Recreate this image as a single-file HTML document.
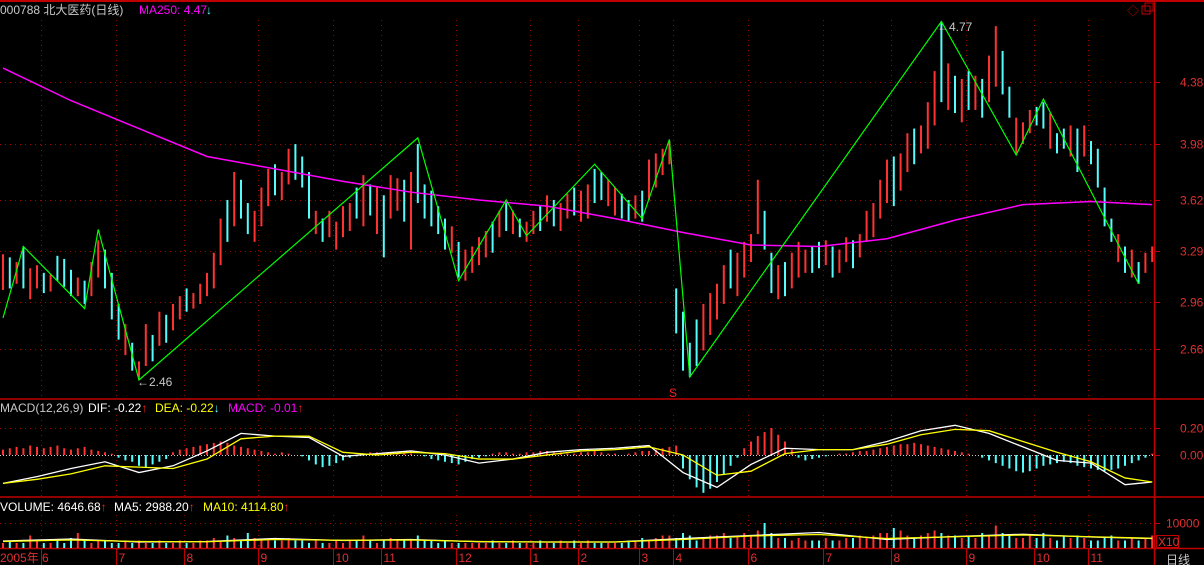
<!DOCTYPE html>
<html><head><meta charset="utf-8"><style>
html,body{margin:0;padding:0;background:#000;}
body{width:1204px;height:565px;overflow:hidden;position:relative;font-family:"Liberation Sans","Noto Sans CJK SC",sans-serif;}
svg{position:absolute;left:0;top:0;}
text{font-family:"Liberation Sans","Noto Sans CJK SC",sans-serif;font-size:12px;}
</style></head><body>
<svg id="chart" width="1204" height="565">
  <g id="grid"></g>
  <g id="frame">
    <line x1="0" y1="1" x2="1204" y2="1" stroke="#c00000" stroke-width="2"/>
    <line x1="1154.5" y1="0" x2="1154.5" y2="565" stroke="#c00000" stroke-width="1.5"/>
    <line x1="0" y1="399" x2="1204" y2="399" stroke="#c00000" stroke-width="1.5"/>
    <line x1="0" y1="497" x2="1204" y2="497" stroke="#c00000" stroke-width="1.5"/>
    <line x1="0" y1="548.5" x2="1204" y2="548.5" stroke="#c00000" stroke-width="1.5"/>
  </g>
  <g id="marks"></g>
  <g id="labels">
    <text x="0" y="14" fill="#c8c8c8">000788 北大医药(日线)</text>
    <text x="139" y="14" fill="#ff00ff">MA250: 4.47</text>
    <text x="206" y="14" fill="#54fcfc">↓</text>
    <text x="1127" y="15" fill="#c00000" font-size="13">◇</text>
    <rect x="1142" y="6" width="8" height="8" fill="none" stroke="#c00000"/>
    <rect x="1145" y="3" width="8" height="8" fill="none" stroke="#c00000"/>
    <text x="0" y="412" fill="#c8c8c8">MACD(12,26,9)</text>
    <text x="88" y="412" fill="#ffffff">DIF: -0.22<tspan fill="#ff2020">↑</tspan></text>
    <text x="155" y="412" fill="#ffff00">DEA: -0.22<tspan fill="#54fcfc">↓</tspan></text>
    <text x="228" y="412" fill="#ff00ff">MACD: -0.01<tspan fill="#ff2020">↑</tspan></text>
    <text x="0" y="511" fill="#ffffff">VOLUME: 4646.68<tspan fill="#ff2020">↑</tspan></text>
    <text x="114" y="511" fill="#ffffff">MA5: 2988.20<tspan fill="#ff2020">↑</tspan></text>
    <text x="203" y="511" fill="#ffff00">MA10: 4114.80<tspan fill="#ff2020">↑</tspan></text>
    <text x="137" y="386" fill="#c8c8c8">←2.46</text>
    <text x="937" y="31" fill="#c8c8c8">←4.77</text>
    <text x="669" y="397" fill="#ff2020" font-size="12">S</text>
    <rect x="1156.5" y="535.5" width="22" height="12" fill="none" stroke="#c00000"/>
    <text x="1158" y="546" fill="#e03030" font-size="11">X10</text>
    <text x="1166" y="564" fill="#c8c8c8">日线</text>
  </g>
</svg>
<script>
const monthLabels = ["2005年 6","7","8","9","10","11","12","1","2","3","4","6","7","8","9","10","11"];
const monthBars = [6,17,27,38,49,56,67,78,85,94,99,110,121,131,142,152,160];
const priceTicks = [4.38,3.98,3.62,3.29,2.96,2.66];
const macdTicks = [0.20,0.00];
const volTicks = [10000];
const highs = [3.27,3.25,3.22,3.32,3.18,3.20,3.15,3.14,3.26,3.24,3.17,3.12,3.10,3.22,3.36,3.30,3.15,2.95,2.82,2.70,2.58,2.82,2.75,2.90,2.88,2.95,3.00,3.05,3.02,3.08,3.15,3.28,3.50,3.62,3.80,3.75,3.60,3.55,3.70,3.82,3.85,3.80,3.95,3.98,3.90,3.80,3.55,3.50,3.55,3.48,3.58,3.60,3.70,3.78,3.72,3.70,3.65,3.78,3.76,3.75,3.80,3.98,3.72,3.68,3.58,3.50,3.45,3.35,3.30,3.32,3.38,3.42,3.48,3.55,3.60,3.55,3.50,3.48,3.55,3.58,3.65,3.62,3.60,3.66,3.70,3.68,3.72,3.82,3.80,3.75,3.70,3.66,3.62,3.65,3.68,3.88,3.92,3.95,4.00,3.05,2.90,2.70,2.85,2.95,3.02,3.08,3.20,3.30,3.28,3.35,3.40,3.75,3.55,3.28,3.20,3.22,3.28,3.35,3.30,3.32,3.35,3.36,3.32,3.30,3.38,3.36,3.40,3.55,3.60,3.75,3.88,3.90,3.92,4.05,4.08,4.10,4.25,4.45,4.77,4.50,4.42,4.40,4.45,4.42,4.40,4.55,4.74,4.58,4.35,4.15,4.12,4.20,4.22,4.25,4.18,4.05,4.08,4.10,4.08,4.10,4.00,3.95,3.70,3.50,3.40,3.32,3.30,3.22,3.28,3.32];
const lows = [3.04,3.05,3.08,3.05,2.98,3.05,3.02,3.03,3.10,3.06,3.00,3.00,2.95,3.00,3.12,3.05,2.85,2.72,2.62,2.52,2.46,2.55,2.58,2.68,2.70,2.78,2.85,2.90,2.92,2.95,3.00,3.05,3.20,3.35,3.45,3.50,3.40,3.35,3.45,3.58,3.65,3.62,3.72,3.75,3.70,3.50,3.40,3.35,3.38,3.30,3.38,3.42,3.50,3.45,3.52,3.40,3.25,3.50,3.55,3.48,3.30,3.60,3.50,3.45,3.40,3.30,3.28,3.12,3.10,3.15,3.20,3.25,3.28,3.38,3.42,3.40,3.38,3.35,3.40,3.42,3.48,3.45,3.42,3.50,3.52,3.48,3.50,3.60,3.62,3.58,3.52,3.50,3.48,3.50,3.48,3.62,3.70,3.78,3.85,2.76,2.52,2.48,2.55,2.65,2.75,2.85,2.95,3.05,3.00,3.12,3.22,3.40,3.30,3.02,2.98,3.00,3.05,3.12,3.15,3.15,3.18,3.20,3.12,3.15,3.22,3.18,3.25,3.35,3.38,3.50,3.60,3.58,3.68,3.80,3.85,3.92,3.95,4.10,4.25,4.20,4.18,4.12,4.20,4.20,4.15,4.25,4.35,4.30,4.15,3.92,3.98,4.05,4.10,4.08,3.95,3.92,3.95,3.90,3.80,3.90,3.85,3.70,3.45,3.35,3.22,3.15,3.12,3.08,3.15,3.22];
const ups = "10101101000101100010110101101111101001110110001011110101011010000010111101010110101101100110010111100001111011110010111001011011111011011101010101100111001001010000101011";
const ma250Bars = [0,10,20,30,40,50,60,70,80,90,100,110,120,130,140,150,160,169];
const ma250 = [4.47,4.26,4.08,3.90,3.82,3.74,3.67,3.62,3.58,3.50,3.41,3.33,3.32,3.37,3.49,3.59,3.61,3.59];
const zigBars = [0,3,12,14,20,61,67,74,77,87,94,98,101,138,149,153,167];
const zigPrices = [2.86,3.32,2.92,3.43,2.46,4.02,3.10,3.62,3.39,3.85,3.50,4.01,2.48,4.77,3.91,4.27,3.08];
const macdBars = [0,5,10,15,20,25,30,35,40,45,50,55,60,65,70,75,80,85,90,95,100,105,110,115,120,125,130,135,140,145,150,155,160,165,169];
const dif = [-0.21,-0.16,-0.10,-0.05,-0.13,-0.08,0.03,0.16,0.14,0.13,-0.01,0.01,0.03,0.00,-0.06,-0.03,0.02,0.04,0.05,0.07,-0.13,-0.24,-0.07,0.05,0.04,0.04,0.10,0.18,0.22,0.16,0.06,-0.04,-0.06,-0.22,-0.20];
const dea = [-0.21,-0.18,-0.14,-0.08,-0.09,-0.10,-0.03,0.12,0.14,0.14,0.02,0.00,0.02,0.01,-0.03,-0.03,0.00,0.03,0.04,0.06,0.00,-0.15,-0.12,0.01,0.04,0.04,0.08,0.15,0.19,0.18,0.10,0.02,-0.05,-0.17,-0.20];
const hist = [4,5,6,5,7,6,5,6,7,5,4,5,6,4,3,2,1,-2,-4,-5,-8,-9,-7,-5,-3,2,4,5,6,7,8,9,10,9,7,6,5,4,3,2,1,2,1,0,-1,-4,-7,-9,-8,-6,-4,-2,-1,1,2,2,1,2,1,1,1,0,-1,-3,-4,-5,-6,-7,-5,-3,-2,-1,1,2,2,1,1,2,2,3,3,2,2,1,1,2,2,3,2,1,1,0,1,2,3,3,4,5,6,7,-10,-18,-24,-28,-25,-20,-14,-8,-2,5,10,14,17,20,15,10,4,-2,-4,-3,-2,-1,0,1,1,2,3,3,4,5,6,7,8,8,9,8,7,6,5,4,3,2,1,0,-2,-4,-6,-8,-10,-12,-13,-12,-10,-8,-7,-6,-5,-6,-8,-9,-10,-11,-12,-11,-10,-8,-6,-4,-2,1];
const volume = [2,3,2,2,5,3,2,2,3,2,4,6,3,2,3,3,2,2,3,2,3,2,2,3,2,2,3,2,2,3,3,4,3,5,4,3,6,4,3,3,3,3,4,3,3,2,3,2,2,3,2,3,3,5,3,2,3,4,3,3,3,5,3,3,2,3,2,2,2,2,2,2,3,2,2,3,2,2,2,3,2,2,3,2,3,2,3,2,2,2,2,2,3,3,4,3,4,5,5,4,6,5,3,4,5,5,6,4,5,6,5,7,10,6,4,4,3,4,3,3,3,4,3,3,4,4,5,4,5,6,6,8,7,5,4,5,6,7,6,5,5,4,5,4,6,5,9,6,5,4,4,5,4,6,4,3,5,4,5,4,3,3,4,5,3,3,4,3,4,5];
const volMaBars = [0,10,20,30,40,50,60,70,80,90,100,110,120,130,140,150,160,169];
const volMa5 = [2.8,3.6,2.4,2.6,3.8,3.0,3.4,2.5,2.4,2.4,3.8,5.0,6.2,3.4,4.6,5.5,4.4,3.8];
const volMa10 = [2.6,3.2,2.6,2.5,3.4,3.1,3.2,2.6,2.4,2.4,3.4,4.8,5.4,3.8,4.5,5.2,4.5,3.9];

const NS = "http://www.w3.org/2000/svg";
function xOf(i){ return 3 + i*6.8; }
function yP(p){ return 82 + (4.38 - p)*155.2; }
function yM(v){ return 455 - v*135; }
function yV(v){ return 548 - v*2.5; }
const RED = "#ff3232", CYAN = "#54fcfc";
function mk(tag, attrs, parent){
  const e = document.createElementNS(NS, tag);
  for (const k in attrs) e.setAttribute(k, attrs[k]);
  parent.appendChild(e);
  return e;
}
const grid = document.getElementById("grid");
const marks = document.getElementById("marks");
const labels = document.getElementById("labels");
const dot = {stroke:"#a00000","stroke-width":1,"stroke-dasharray":"1,4"};

priceTicks.forEach(p=>{
  const y = Math.round(yP(p))+0.5;
  const l = mk("line", Object.assign({x1:0,y1:y,x2:1154,y2:y}, dot), grid);
  
  
  mk("line",{x1:1154,y1:y,x2:1160,y2:y,stroke:"#c00000"},grid);
  const t = mk("text",{x:1180,y:y+4,fill:"#e03030"},labels);
  t.textContent = p.toFixed(2);
  
  
});
macdTicks.forEach(v=>{
  const y = Math.round(yM(v))+0.5;
  const st = v===0 ? {stroke:"#c8c8c8","stroke-width":1,"stroke-dasharray":"1,2"} : dot;
  const l = mk("line", Object.assign({x1:0,y1:y,x2:1154,y2:y}, st), grid);
  
  
  mk("line",{x1:1154,y1:y,x2:1160,y2:y,stroke:"#c00000"},grid);
  const t = mk("text",{x:1180,y:y+4,fill:"#e03030"},labels);
  t.textContent = v.toFixed(2);
  
  
});
volTicks.forEach(v=>{
  const y = Math.round(yV(v/1000))+0.5;
  const l = mk("line", Object.assign({x1:0,y1:y,x2:1154,y2:y}, dot), grid);
  
  
  mk("line",{x1:1154,y1:y,x2:1160,y2:y,stroke:"#c00000"},grid);
  const t = mk("text",{x:1166,y:y+4,fill:"#e03030"},labels);
  t.textContent = String(v);
  
  
});
monthBars.forEach((b,k)=>{
  const x = Math.round(xOf(b) - 3) + 0.5;
  [[20,398],[415,496],[515,547]].forEach(r=>{
    const l = mk("line", Object.assign({x1:x,y1:r[0],x2:x,y2:r[1]}, dot), grid);
    
    
  });
  mk("line",{x1:x,y1:549,x2:x,y2:565,stroke:"#c00000"},grid);
  const t = mk("text",{x:(k===0?0:x+2),y:562,fill:"#e03030"},labels);
  t.textContent = monthLabels[k];
  
  
});

highs.forEach((h,i)=>{
  const x = xOf(i);
  const l = mk("line",{x1:x,y1:yP(h),x2:x,y2:yP(lows[i]),stroke:ups[i]==="1"?RED:CYAN,"stroke-width":2},marks);
  
  
});
const maPath = mk("polyline",{points:ma250Bars.map((b,k)=>xOf(b)+","+yP(ma250[k])).join(" "),fill:"none",stroke:"#ff00ff","stroke-width":1.5},marks);


const zz = mk("polyline",{points:zigBars.map((b,k)=>xOf(b)+","+yP(zigPrices[k])).join(" "),fill:"none",stroke:"#00ff00","stroke-width":1.2},marks);



hist.forEach((v,i)=>{
  const x = xOf(i);
  const l = mk("line",{x1:x,y1:yM(0),x2:x,y2:yM(v/100),stroke:v>=0?RED:CYAN,"stroke-width":2},marks);
  
  
});
const difL = mk("polyline",{points:macdBars.map((b,k)=>xOf(b)+","+yM(dif[k])).join(" "),fill:"none",stroke:"#ffffff","stroke-width":1.3},marks);


const deaL = mk("polyline",{points:macdBars.map((b,k)=>xOf(b)+","+yM(dea[k])).join(" "),fill:"none",stroke:"#ffff00","stroke-width":1.3},marks);



volume.forEach((v,i)=>{
  const x = xOf(i);
  const l = mk("line",{x1:x,y1:548,x2:x,y2:yV(v),stroke:ups[i]==="1"?RED:CYAN,"stroke-width":2},marks);
  
  
});
const v5 = mk("polyline",{points:volMaBars.map((b,k)=>xOf(b)+","+yV(volMa5[k])).join(" "),fill:"none",stroke:"#ffffff","stroke-width":1.3},marks);


const v10 = mk("polyline",{points:volMaBars.map((b,k)=>xOf(b)+","+yV(volMa10[k])).join(" "),fill:"none",stroke:"#ffff00","stroke-width":1.3},marks);


</script>
</body></html>
